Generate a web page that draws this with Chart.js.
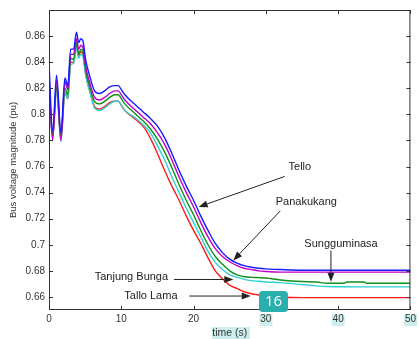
<!DOCTYPE html>
<html>
<head>
<meta charset="utf-8">
<script src="https://cdn.jsdelivr.net/npm/chart.js@4.4.1/dist/chart.umd.min.js"></script>
<style>
  html, body { margin: 0; padding: 0; background: #fff; }
  #wrap { width: 419px; height: 339px; }
</style>
</head>
<body>
<div id="wrap"><canvas id="chart" width="419" height="339"></canvas></div>
<script>
// time axis (s), shared by all buses
const TIME = [0, 0.5, 1.05, 1.65, 2.2, 2.6, 3.0, 3.4, 3.8, 4.1, 4.4, 4.7, 5.1, 5.6, 6.3, 7.0, 7.7, 8.4, 9.1, 9.6,
  10.0, 10.5, 12, 13, 14, 15, 16, 17, 18, 19, 20, 21, 22, 23, 24, 25, 26, 27, 28, 29,
  30, 32, 35, 37, 38.5, 40.8, 41.2, 43.5, 44, 50];

const TELLO = [0.840, 0.787, 0.830, 0.786, 0.828, 0.822, 0.850, 0.850, 0.863, 0.855, 0.858, 0.856, 0.841, 0.830, 0.818, 0.816, 0.818, 0.821, 0.822, 0.822,
  0.819, 0.815, 0.807, 0.802, 0.797, 0.791, 0.782, 0.770, 0.757, 0.745, 0.734, 0.722, 0.711, 0.701, 0.694, 0.689, 0.686, 0.684, 0.6828, 0.682,
  0.6815, 0.681, 0.6805, 0.6805, 0.6805, 0.6805, 0.6805, 0.6805, 0.6805, 0.6805];

const PANAKUKANG = [0.830, 0.780, 0.826, 0.780, 0.825, 0.819, 0.846, 0.846, 0.858, 0.850, 0.853, 0.851, 0.836, 0.825, 0.813, 0.811, 0.813, 0.816, 0.818, 0.818,
  0.815, 0.811, 0.803, 0.798, 0.793, 0.786, 0.777, 0.765, 0.752, 0.740, 0.729, 0.717, 0.706, 0.697, 0.691, 0.687, 0.684, 0.682, 0.681, 0.680,
  0.6795, 0.679, 0.679, 0.679, 0.679, 0.679, 0.679, 0.679, 0.679, 0.679];

const SUNGGUMINASA = [0.825, 0.784, 0.822, 0.783, 0.820, 0.815, 0.843, 0.842, 0.855, 0.846, 0.850, 0.848, 0.833, 0.822, 0.810, 0.808, 0.810, 0.813, 0.815, 0.815,
  0.812, 0.808, 0.800, 0.795, 0.789, 0.781, 0.771, 0.759, 0.746, 0.734, 0.723, 0.711, 0.700, 0.691, 0.685, 0.680, 0.677, 0.6755, 0.675, 0.6748,
  0.6745, 0.673, 0.6718, 0.6715, 0.6705, 0.6705, 0.6715, 0.6715, 0.6705, 0.6705];

const TANJUNG_BUNGA = [0.815, 0.784, 0.818, 0.779, 0.817, 0.812, 0.838, 0.839, 0.851, 0.843, 0.846, 0.844, 0.829, 0.818, 0.805, 0.803, 0.805, 0.808, 0.810, 0.810,
  0.807, 0.803, 0.797, 0.792, 0.786, 0.776, 0.765, 0.752, 0.740, 0.728, 0.717, 0.706, 0.695, 0.6865, 0.681, 0.677, 0.675, 0.6735, 0.6725, 0.672,
  0.6715, 0.671, 0.6695, 0.6685, 0.668, 0.6678, 0.6678, 0.6677, 0.6677, 0.6677];

const TALLO_LAMA = [0.820, 0.782, 0.820, 0.781, 0.816, 0.812, 0.840, 0.840, 0.853, 0.845, 0.848, 0.846, 0.830, 0.819, 0.806, 0.804, 0.806, 0.809, 0.810, 0.810,
  0.807, 0.803, 0.796, 0.791, 0.782, 0.770, 0.757, 0.745, 0.734, 0.722, 0.711, 0.701, 0.690, 0.680, 0.674, 0.669, 0.6665, 0.664, 0.6625, 0.6615,
  0.6605, 0.6598, 0.6595, 0.6595, 0.6595, 0.6595, 0.6595, 0.6595, 0.6595, 0.6595];

const Y_TICKS = [0.66, 0.68, 0.7, 0.72, 0.74, 0.76, 0.78, 0.8, 0.82, 0.84, 0.86];
const X_TICKS = [0, 10, 20, 30, 40, 50];

// label text, then where the arrow starts and ends (data units)
const NOTES = [
  { text: 'Tello',         tx: 34.7, ty: 0.760, x0: 32.6, y0: 0.7524, x1: 20.7, y1: 0.729 },
  { text: 'Panakukang',    tx: 35.6, ty: 0.733, x0: 32.0, y0: 0.726,  x1: 25.5, y1: 0.688 },
  { text: 'Sungguminasa',  tx: 40.4, ty: 0.701, x0: 39.0, y0: 0.6956, x1: 39.0, y1: 0.6716 },
  { text: 'Tanjung Bunga', tx: 11.4, ty: 0.675, x0: 17.3, y0: 0.6734, x1: 25.5, y1: 0.6734 },
  { text: 'Tallo Lama',    tx: 14.1, ty: 0.661, x0: 19.4, y0: 0.6607, x1: 27.9, y1: 0.6607 },
];

const toPoints = vals => TIME.map((t, i) => ({ x: t, y: vals[i] }));

function line(label, vals, color) {
  return {
    label, data: toPoints(vals), borderColor: color, borderWidth: 1.4,
    pointRadius: 0, fill: false, cubicInterpolationMode: 'monotone',
  };
}

function arrow(ctx, x0, y0, x1, y1) {
  const a = Math.atan2(y1 - y0, x1 - x0);
  const len = 9, w = 3.5;
  ctx.beginPath();
  ctx.moveTo(x0, y0);
  ctx.lineTo(x1 - Math.cos(a) * len, y1 - Math.sin(a) * len);
  ctx.stroke();
  ctx.beginPath();
  ctx.moveTo(x1, y1);
  ctx.lineTo(x1 - Math.cos(a) * len - Math.sin(a) * w, y1 - Math.sin(a) * len + Math.cos(a) * w);
  ctx.lineTo(x1 - Math.cos(a) * len + Math.sin(a) * w, y1 - Math.sin(a) * len - Math.cos(a) * w);
  ctx.closePath();
  ctx.fill();
}

const frame = {
  id: 'frame',
  beforeDraw(chart) {
    // selection highlights seen in the source picture
    const { ctx, scales: { x } } = chart;
    ctx.save();
    ctx.fillStyle = '#cdeeee';
    [30, 40, 50].forEach(v => {
      const px = x.getPixelForValue(v);
      ctx.fillRect(px - 6.5, 314, 13, 12);
    });
    ctx.fillRect(212, 327, 38, 12);
    ctx.restore();
  },
  afterDraw(chart) {
    const { ctx, chartArea: a, scales: { x, y } } = chart;
    ctx.save();
    ctx.strokeStyle = '#333';
    ctx.lineWidth = 1;
    ctx.strokeRect(a.left + 0.5, a.top + 0.5, a.right - a.left - 1, a.bottom - a.top - 1);
    ctx.beginPath();
    X_TICKS.forEach(v => {
      const px = Math.round(x.getPixelForValue(v)) + 0.5;
      ctx.moveTo(px, a.bottom); ctx.lineTo(px, a.bottom - 4);
      ctx.moveTo(px, a.top); ctx.lineTo(px, a.top + 4);
    });
    Y_TICKS.forEach(v => {
      const py = Math.round(y.getPixelForValue(v)) + 0.5;
      ctx.moveTo(a.left, py); ctx.lineTo(a.left + 4, py);
      ctx.moveTo(a.right, py); ctx.lineTo(a.right - 4, py);
    });
    ctx.stroke();

    ctx.strokeStyle = '#222';
    ctx.fillStyle = '#222';
    ctx.font = '11px "Liberation Sans", Arial, sans-serif';
    ctx.textAlign = 'center';
    ctx.textBaseline = 'middle';
    NOTES.forEach(n => {
      ctx.fillText(n.text, x.getPixelForValue(n.tx), y.getPixelForValue(n.ty));
      arrow(ctx, x.getPixelForValue(n.x0), y.getPixelForValue(n.y0),
        x.getPixelForValue(n.x1), y.getPixelForValue(n.y1));
    });

    // page-number badge overlaid on the source
    ctx.fillStyle = '#2aaeae';
    ctx.beginPath();
    ctx.roundRect(259, 291, 29, 21, 4);
    ctx.fill();
    ctx.fillStyle = '#fff';
    ctx.font = '15px "Open Sans", sans-serif';
    ctx.fillText('16', 273.5, 302);
    ctx.restore();
  },
};

new Chart(document.getElementById('chart'), {
  type: 'line',
  data: {
    datasets: [
      line('Tello', TELLO, '#1a1aff'),
      line('Panakukang', PANAKUKANG, '#c000c8'),
      line('Sungguminasa', SUNGGUMINASA, '#10901a'),
      line('Tanjung Bunga', TANJUNG_BUNGA, '#2ed0d0'),
      line('Tallo Lama', TALLO_LAMA, '#ff1a1a'),
    ],
  },
  options: {
    responsive: false,
    animation: false,
    devicePixelRatio: 1,
    layout: { padding: { top: 7, right: 6, left: 0, bottom: 0 } },
    plugins: { legend: { display: false }, tooltip: { enabled: false } },
    scales: {
      x: {
        type: 'linear', min: 0, max: 50,
        afterBuildTicks: s => { s.ticks = X_TICKS.map(v => ({ value: v })); },
        afterFit: s => { s.height = 29; },
        grid: { display: false, drawTicks: false },
        border: { display: false },
        ticks: { autoSkip: false, maxRotation: 0, padding: 3, color: '#333',
          font: { family: '"Liberation Sans", Arial, sans-serif', size: 10 } },
        title: { display: true, text: 'time (s)', color: '#333', padding: 0,
          font: { family: '"Liberation Sans", Arial, sans-serif', size: 10.5 } },
      },
      y: {
        type: 'linear', min: 0.65, max: 0.88,
        afterBuildTicks: s => { s.ticks = Y_TICKS.map(v => ({ value: v })); },
        afterFit: s => { s.width = 49; },
        grid: { display: false, drawTicks: false },
        border: { display: false },
        ticks: { autoSkip: false, padding: 4, color: '#333',
          callback: v => String(Number(v.toFixed(2))),
          font: { family: '"Liberation Sans", Arial, sans-serif', size: 10 } },
        title: { display: true, text: 'Bus voltage magnitude (pu)', color: '#333',
          padding: { top: 8, bottom: 0 },
          font: { family: '"Liberation Sans", Arial, sans-serif', size: 9.5 } },
      },
    },
  },
  plugins: [frame],
});
</script>
</body>
</html>
